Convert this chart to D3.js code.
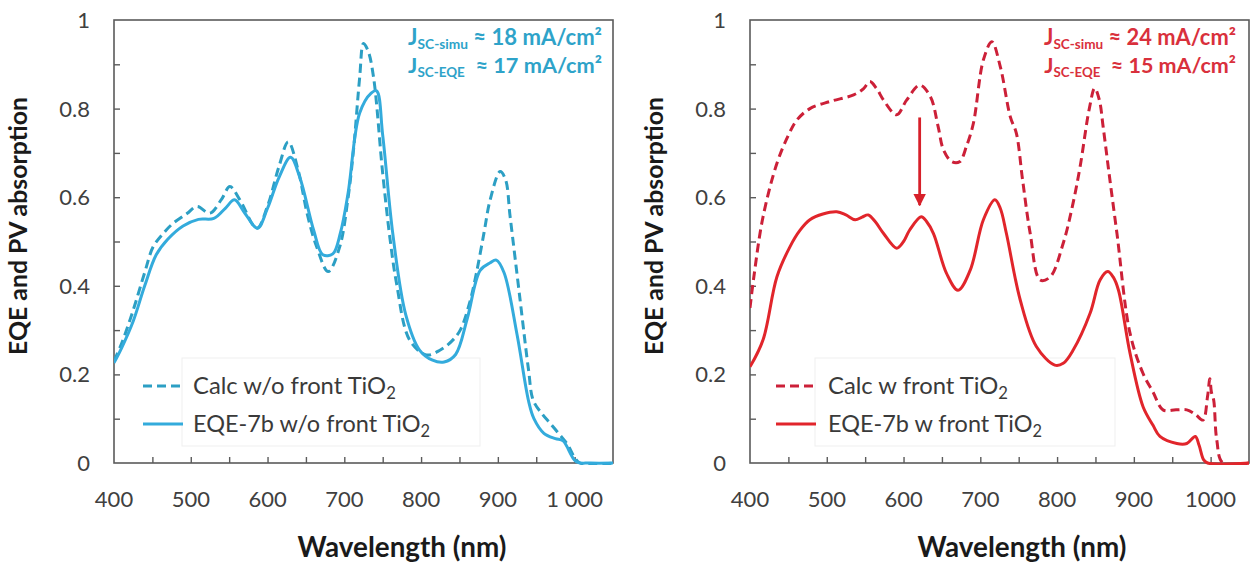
<!DOCTYPE html>
<html><head><meta charset="utf-8">
<script src="https://cdn.jsdelivr.net/npm/d3@7/dist/d3.min.js"></script>
<style>
body{margin:0;background:#fff}
svg{display:block}
text{font-family:Lato,"Open Sans",sans-serif}
</style>
</head><body>
<svg id="chart" width="1250" height="565"></svg>
<script>
// ---------- DATA ----------
const xTickMinor = [400,450,500,550,600,650,700,750,800,850,900,950,1000,1050];
const xTickMajor = [400,500,600,700,800,900,1000];
const xTickLabelsLeft  = ["400","500","600","700","800","900","1 000"];
const xTickLabelsRight = ["400","500","600","700","800","900","1000"];
const yTickMinor = [0,0.1,0.2,0.3,0.4,0.5,0.6,0.7,0.8,0.9,1];
const yTickMajor = [0,0.2,0.4,0.6,0.8,1];
const yTickLabels = ["0","0.2","0.4","0.6","0.8","1"];

// Left panel: without front TiO2
const calcNoTiO2Wl  = [400,410,425,440,451,465,477,495,508,525,540,551,564,586,600,615,627,640,652,664,679,694,705,712,720,725,731,738,750,760,768,785,807,825,840,851,863,872,882,890,903,910,916,929,940,946,958,968,980,990,1007,1050];
const calcNoTiO2Val = [0.23,0.27,0.345,0.43,0.488,0.52,0.541,0.563,0.579,0.564,0.595,0.624,0.594,0.53,0.58,0.67,0.725,0.66,0.56,0.488,0.432,0.488,0.60,0.707,0.87,0.947,0.93,0.872,0.654,0.50,0.406,0.278,0.244,0.255,0.275,0.30,0.36,0.428,0.52,0.594,0.658,0.64,0.556,0.368,0.21,0.142,0.11,0.09,0.065,0.044,0.0,0.0];
const eqeNoTiO2Wl  = [400,410,425,440,455,470,490,510,530,545,557,570,587,600,615,630,642,660,672,685,695,705,720,735,742,750,763,780,798,815,830,845,860,877,890,898,908,925,940,947,960,975,985,1002,1020,1050];
const eqeNoTiO2Val = [0.226,0.26,0.32,0.40,0.47,0.505,0.535,0.55,0.552,0.575,0.594,0.565,0.53,0.575,0.645,0.69,0.645,0.526,0.47,0.472,0.52,0.61,0.79,0.835,0.84,0.74,0.52,0.335,0.255,0.232,0.228,0.245,0.325,0.435,0.452,0.458,0.43,0.29,0.14,0.10,0.067,0.055,0.05,0.003,0.0,0.0];

// Right panel: with front TiO2
const calcTiO2Wl  = [400,405,417,435,450,461,478,504,535,548,556,565,574,591,604,621,635,645,652,663,673,682,691,704,715,726,739,747,755,765,778,791,808,820,830,842,849,855,860,868,878,895,912,925,938,955,969,980,990,996,999,1001,1004,1008,1016,1050];
const calcTiO2Val = [0.35,0.42,0.556,0.676,0.74,0.774,0.80,0.816,0.831,0.845,0.861,0.845,0.819,0.786,0.819,0.853,0.827,0.76,0.707,0.68,0.68,0.715,0.767,0.91,0.951,0.895,0.782,0.744,0.64,0.518,0.413,0.42,0.496,0.58,0.669,0.80,0.846,0.82,0.759,0.65,0.518,0.293,0.202,0.16,0.12,0.12,0.12,0.11,0.097,0.15,0.19,0.16,0.142,0.052,0.0,0.0];
const eqeTiO2Wl  = [400,417,435,452,465,478,495,513,525,537,546,554,563,574,591,600,608,623,630,639,656,671,687,704,719,726,734,752,773,797,808,821,843,856,866,873,880,895,912,925,934,956,969,980,985,991,996,1050];
const eqeTiO2Val = [0.217,0.278,0.42,0.488,0.525,0.549,0.562,0.567,0.56,0.549,0.555,0.56,0.545,0.518,0.485,0.50,0.526,0.556,0.545,0.518,0.428,0.39,0.436,0.549,0.594,0.575,0.518,0.368,0.263,0.221,0.225,0.255,0.338,0.413,0.432,0.42,0.39,0.248,0.127,0.085,0.06,0.044,0.044,0.06,0.04,0.007,0.0,0.0];

const legendLeft  = ["Calc w/o front TiO", "EQE-7b w/o front TiO"];
const legendRight = ["Calc w front TiO", "EQE-7b w front TiO"];
const jscLeft  = [["SC-simu","≈ 18 mA/cm²"],["SC-EQE","≈ 17 mA/cm²"]];
const jscRight = [["SC-simu","≈ 24 mA/cm²"],["SC-EQE","≈ 15 mA/cm²"]];
const arrowWl = 621, arrowFrom = 0.78, arrowTo = 0.582;

// ---------- DRAW ----------
const svg = d3.select("#chart");
const Y0 = 463, Y1 = 20;
const frameColor = "#5b5b5b", tickText = "#404040";

function fitWidth(sel, w){
  const n = sel.node();
  const cur = n.getComputedTextLength();
  const fs = parseFloat(sel.attr("font-size"));
  sel.attr("font-size", fs * w / cur);
}

function drawPanel(p){
  const g = svg.append("g");
  const x = d3.scaleLinear().domain([400,1050]).range([p.x0, p.x1]);
  const y = d3.scaleLinear().domain([0,1]).range([Y0, Y1]);

  g.append("rect").attr("x",p.x0).attr("y",Y1).attr("width",p.x1-p.x0).attr("height",Y0-Y1)
    .attr("fill","none").attr("stroke",frameColor).attr("stroke-width",1.6);

  const xa = g.append("g").attr("transform",`translate(0,${Y0})`)
    .call(d3.axisBottom(x).tickValues(xTickMinor.filter(v=>v>400&&v<1050)).tickSize(-6).tickFormat(""));
  xa.select(".domain").remove();
  xa.selectAll("line").attr("stroke",frameColor).attr("stroke-width",1.4);
  const ya = g.append("g").attr("transform",`translate(${p.x0},0)`)
    .call(d3.axisLeft(y).tickValues(yTickMinor.filter(v=>v>0&&v<1)).tickSize(-6).tickFormat(""));
  ya.select(".domain").remove();
  ya.selectAll("line").attr("stroke",frameColor).attr("stroke-width",1.4);

  g.selectAll(".xl").data(xTickMajor).join("text")
    .attr("x",d=>x(d)).attr("y",507).attr("text-anchor","middle")
    .attr("font-size",22).attr("fill",tickText).text((d,i)=>p.xLabels[i]);
  g.selectAll(".yl").data(yTickMajor).join("text")
    .attr("x",p.x0-24).attr("y",d=>y(d)+8).attr("text-anchor","end")
    .attr("font-size",22).attr("fill",tickText).text((d,i)=>yTickLabels[i]);

  const xt = g.append("text").attr("x",p.xTitleX).attr("y",557).attr("text-anchor","middle")
    .attr("font-size",24).attr("font-weight","bold").attr("fill","#1a1a1a").text("Wavelength (nm)");
  fitWidth(xt, 209);
  const yt = g.append("text").attr("transform",`translate(${p.yTitleX},226) rotate(-90)`)
    .attr("text-anchor","middle").attr("font-size",22).attr("font-weight","bold").attr("fill","#1a1a1a")
    .text("EQE and PV absorption");
  fitWidth(yt, 258);

  const cid = "clip"+p.id;
  svg.append("clipPath").attr("id",cid).append("rect")
    .attr("x",p.x0).attr("y",Y1).attr("width",p.x1-p.x0).attr("height",Y0-Y1+2);

  const line = d3.line().x(d=>x(d[0])).y(d=>y(d[1])).curve(d3.curveCatmullRom.alpha(0.5));

  g.append("rect").attr("x",p.legX0).attr("y",358).attr("width",p.legW).attr("height",88)
    .attr("fill","#fff").attr("stroke","#efefef").attr("stroke-width",1);

  const curves = g.append("g").attr("clip-path",`url(#${cid})`);
  curves.append("path").datum(d3.zip(p.calcWl,p.calcVal)).attr("d",line)
    .attr("fill","none").attr("stroke",p.calcColor).attr("stroke-width",3).attr("stroke-dasharray","9,5");
  curves.append("path").datum(d3.zip(p.eqeWl,p.eqeVal)).attr("d",line)
    .attr("fill","none").attr("stroke",p.eqeColor).attr("stroke-width",3);

  const legY = [386, 424];
  [0,1].forEach(i=>{
    g.append("line").attr("x1",p.legLineX0).attr("x2",p.legLineX0+40).attr("y1",legY[i]).attr("y2",legY[i])
      .attr("stroke", i===0?p.calcColor:p.eqeColor).attr("stroke-width",3)
      .attr("stroke-dasharray", i===0?"9,5":null);
    const t = g.append("text").attr("x",p.legTextX).attr("y",legY[i]+8)
      .attr("font-size",21).attr("fill","#3a3a3a");
    t.append("tspan").text(p.legend[i]);
    t.append("tspan").attr("font-size","0.7em").attr("dy",5).text("2");
    fitWidth(t, p.legW_text[i]);
  });

  const base = [45,73];
  [0,1].forEach(i=>{
    const t = g.append("text").attr("x",p.annX).attr("y",base[i]).attr("text-anchor","end")
      .attr("font-size",18).attr("font-weight","bold").attr("fill",p.annColor);
    t.append("tspan").text("J");
    t.append("tspan").attr("font-size","0.62em").attr("dy",4).text(p.jsc[i][0]);
    t.append("tspan").attr("dy",-4).text((i===1?"  ":" ")+p.jsc[i][1]);
    t.attr("xml:space","preserve");
    fitWidth(t, p.annW);
  });

  return {x,y,g};
}

const left = drawPanel({
  id:"L", x0:114, x1:613, xLabels:xTickLabelsLeft, xTitleX:402, yTitleX:27,
  calcWl:calcNoTiO2Wl, calcVal:calcNoTiO2Val, eqeWl:eqeNoTiO2Wl, eqeVal:eqeNoTiO2Val,
  calcColor:"#2c9fc4", eqeColor:"#33abdc",
  legend:legendLeft, legX0:182, legW:298, legLineX0:143, legTextX:193, legW_text:[203,237],
  jsc:jscLeft, annX:602, annW:194, annColor:"#2ea3c9"
});
const right = drawPanel({
  id:"R", x0:750, x1:1249, xLabels:xTickLabelsRight, xTitleX:1022, yTitleX:663,
  calcWl:calcTiO2Wl, calcVal:calcTiO2Val, eqeWl:eqeTiO2Wl, eqeVal:eqeTiO2Val,
  calcColor:"#cc2038", eqeColor:"#e1252b",
  legend:legendRight, legX0:815, legW:300, legLineX0:776, legTextX:828, legW_text:[180,214],
  jsc:jscRight, annX:1236, annW:192, annColor:"#d9303c"
});

const defs = svg.append("defs");
defs.append("marker").attr("id","ah").attr("viewBox","0 0 10 10").attr("refX",9).attr("refY",5)
  .attr("markerWidth",4.5).attr("markerHeight",4.5).attr("orient","auto")
  .append("path").attr("d","M0,0 L10,5 L0,10 z").attr("fill","#d7202a");
right.g.append("line")
  .attr("x1",right.x(arrowWl)).attr("x2",right.x(arrowWl))
  .attr("y1",right.y(arrowFrom)).attr("y2",right.y(arrowTo))
  .attr("stroke","#d7202a").attr("stroke-width",2.8).attr("marker-end","url(#ah)");
</script>
</body></html>
